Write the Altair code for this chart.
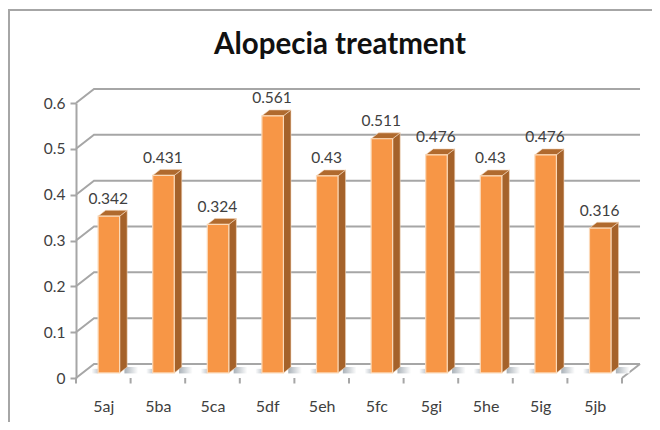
import altair as alt
import pandas as pd

categories = ["5aj", "5ba", "5ca", "5df", "5eh", "5fc", "5gi", "5he", "5ig", "5jb"]
values = [0.342, 0.431, 0.324, 0.561, 0.43, 0.511, 0.476, 0.43, 0.476, 0.316]
y_ticks = [0, 0.1, 0.2, 0.3, 0.4, 0.5, 0.6]

# oblique depth projection in data units (category units / value units)
DX, DY = 0.33, 0.0306
D_FRONT, D_BACK = 0.36, 0.78
BAR_LEFT, BAR_W = 0.286, 0.394
FONT = "Lato"
TXT = "#404040"
GRID = "#A6A6A6"
n = len(categories)

def px(i, d):
    return i + d * DX

def py(v, d):
    return v + d * DY

xs = alt.Scale(domain=[0, n], nice=False, zero=False)
ys = alt.Scale(domain=[0, 0.6], nice=False, zero=False)
x_axis = alt.Axis(values=[i + 0.5 for i in range(n)],
                  labelExpr="[" + ",".join(f"'{c}'" for c in categories) + "][floor(datum.value)]",
                  labelFont=FONT, labelFontSize=16, labelColor=TXT, labelPadding=20,
                  labelAngle=0, ticks=False, domain=False, grid=False, labelFlush=False, labelOverlap=False)
y_axis = alt.Axis(values=y_ticks, labelFont=FONT, labelFontSize=15.5, labelColor=TXT,
                  labelPadding=5, tickColor=GRID, tickSize=6, tickWidth=2, domainColor=GRID,
                  domainWidth=2, grid=False, format="~g", labelOverlap=False)
X = alt.X("x:Q", scale=xs, title=None, axis=x_axis)
Y = alt.Y("y:Q", scale=ys, title=None, axis=y_axis, stack=None)

# walls and floor lines
walls = []
for v in y_ticks:
    walls += [dict(s=v, o=0, x=0, y=v), dict(s=v, o=1, x=DX, y=py(v, 1)),
              dict(s=v, o=2, x=n + DX, y=py(v, 1))]
walls += [dict(s=-1, o=0, x=n, y=0), dict(s=-1, o=1, x=n + DX, y=py(0, 1))]
walls_layer = alt.Chart(pd.DataFrame(walls)).mark_line(color=GRID, strokeWidth=2, clip=False).encode(
    x=X, y=Y, detail="s:N", order="o:Q")

# x ticks
x_ticks = alt.Chart(pd.DataFrame({"x": list(range(n + 1)), "y": [0] * (n + 1), "y2": [-0.012] * (n + 1)})).mark_rule(
    color=GRID, strokeWidth=2, clip=False).encode(
    x=X, y=Y, y2="y2:Q")

# floor shadows beside the bars
shadow_r = pd.DataFrame([
    dict(x=px(i, D_BACK) + BAR_LEFT + BAR_W - 0.05, x2=px(i, D_BACK) + BAR_LEFT + BAR_W + 0.2, y=0.010, y2=0.024)
    for i in range(n)])
shadow_l = pd.DataFrame([
    dict(x=px(i, D_FRONT) + BAR_LEFT - 0.12, x2=px(i, D_FRONT) + BAR_LEFT, y=0.010, y2=0.020)
    for i in range(n)])
shadow_layer = alt.Chart(shadow_r).mark_rect(
    fill=alt.LinearGradient(gradient="linear", x1=0, x2=1, y1=0, y2=0,
                            stops=[alt.GradientStop(offset=0, color="#A9B1B8"),
                                   alt.GradientStop(offset=1, color="#FFFFFF")])).encode(
    x=X, x2="x2:Q", y=Y, y2="y2:Q")
shadow_layer2 = alt.Chart(shadow_l).mark_rect(
    fill=alt.LinearGradient(gradient="linear", x1=0, x2=1, y1=0, y2=0,
                            stops=[alt.GradientStop(offset=0, color="#FFFFFF"),
                                   alt.GradientStop(offset=1, color="#C4CAD0")])).encode(
    x=X, x2="x2:Q", y=Y, y2="y2:Q")

# bar faces
side, top = [], []
for i, v in enumerate(values):
    xr_f = px(i, D_FRONT) + BAR_LEFT + BAR_W
    xr_b = px(i, D_BACK) + BAR_LEFT + BAR_W
    xl_f = px(i, D_FRONT) + BAR_LEFT
    xl_b = px(i, D_BACK) + BAR_LEFT
    side += [dict(b=i, o=0, x=xr_f, y=py(0, D_FRONT), y2=py(v, D_FRONT)),
             dict(b=i, o=1, x=xr_b, y=py(0, D_BACK), y2=py(v, D_BACK))]
    yf, yb = py(v, D_FRONT), py(v, D_BACK)
    top += [dict(b=i, o=0, x=xl_f, y=yf, y2=yf), dict(b=i, o=1, x=xl_b, y=yf, y2=yb),
            dict(b=i, o=2, x=xr_f, y=yf, y2=yb), dict(b=i, o=3, x=xr_b, y=yb, y2=yb)]
side_layer = alt.Chart(pd.DataFrame(side)).mark_area(fill="#A5622A", stroke="#F3D8BE", strokeWidth=0.6,
                                                     clip=False, orient="vertical").encode(
    x=X, y=Y, y2="y2:Q", detail="b:N")
top_layer = alt.Chart(pd.DataFrame(top)).mark_area(fill="#B06A2E", stroke="#F3D8BE", strokeWidth=0.6,
                                                   clip=False, orient="vertical").encode(
    x=X, y=Y, y2="y2:Q", detail="b:N")
front_df = pd.DataFrame([
    dict(x=px(i, D_FRONT) + BAR_LEFT, x2=px(i, D_FRONT) + BAR_LEFT + BAR_W,
         y=py(0, D_FRONT), y2=py(v, D_FRONT)) for i, v in enumerate(values)])
front_layer = alt.Chart(front_df).mark_rect(fill="#F79646", stroke="#FBD9B8", strokeWidth=1.2, clip=False).encode(
    x=X, x2="x2:Q", y=Y, y2="y2:Q")

# value labels
lab = pd.DataFrame({"x": [i + 0.59 for i in range(n)], "y": [v + 0.049 for v in values], "t": [f"{v:g}" for v in values]})
labels = alt.Chart(lab).mark_text(font=FONT, fontSize=15.5, color=TXT, baseline="middle", clip=False).encode(
    x=X, y=Y, text="t:N")

# chart frame (top and left only)
frame = alt.Chart(pd.DataFrame({"a": [0]})).mark_rule(color=GRID, strokeWidth=2).encode(
    x=alt.value(-67), x2=alt.value(-67), y=alt.value(-93), y2=alt.value(319))
frame2 = alt.Chart(pd.DataFrame({"a": [0]})).mark_rule(color=GRID, strokeWidth=2).encode(
    x=alt.value(-68), x2=alt.value(576), y=alt.value(-93), y2=alt.value(-93))

chart = alt.layer(frame, frame2, walls_layer, x_ticks, shadow_layer, shadow_layer2, side_layer, top_layer,
                  front_layer, labels).properties(
    width=546, height=275,
    padding={"left": 68, "top": 95, "right": 30, "bottom": 44},
    autosize=alt.AutoSizeParams(type="none"),
    background="white",
    title=alt.TitleParams("Alopecia treatment", font=FONT, fontSize=29.5, fontWeight="bold", color="#111111",
                          anchor="middle", dx=-9, dy=84, baseline="bottom"),
).configure_view(stroke=None)

chart.save("out.html", embed_options={"renderer": "svg", "actions": False})
